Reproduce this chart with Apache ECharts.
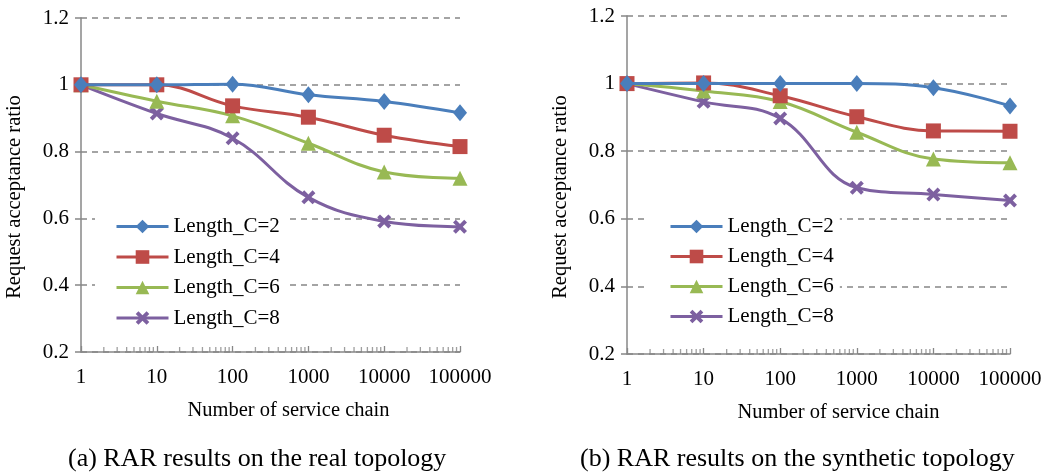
<!DOCTYPE html>
<html>
<head>
<meta charset="utf-8">
<script src="https://cdn.jsdelivr.net/npm/echarts@6/dist/echarts.min.js"></script>
<style>
  html, body { margin: 0; padding: 0; background: #fff; }
  #main { width: 1050px; height: 476px; }
</style>
</head>
<body>
<div id="main"></div>
<script>
// number of service chains (log x axis)
var chainCounts = [1, 10, 100, 1000, 10000, 100000];
var seriesNames = ['Length_C=2', 'Length_C=4', 'Length_C=6', 'Length_C=8'];

// (a) real topology
var realC2 = [1, 1, 1.002, 0.97, 0.95, 0.916];
var realC4 = [1, 1, 0.937, 0.903, 0.849, 0.815];
var realC6 = [1, 0.951, 0.907, 0.825, 0.739, 0.72];
var realC8 = [1, 0.914, 0.84, 0.663, 0.591, 0.575];

// (b) synthetic topology
var synC2 = [1, 1, 1, 1, 0.988, 0.934];
var synC4 = [1, 1.002, 0.964, 0.902, 0.86, 0.859];
var synC6 = [1, 0.978, 0.947, 0.856, 0.777, 0.766];
var synC8 = [1, 0.946, 0.897, 0.692, 0.672, 0.654];

var yTicks = [0.2, 0.4, 0.6, 0.8, 1, 1.2];
var captions = ['(a) RAR results on the real topology', '(b) RAR results on the synthetic topology'];

var colors = ['#4A7EBB', '#BE4B48', '#98B954', '#7D60A0'];
var FONT = '"Liberation Serif", "Times New Roman", serif';
var GREY = '#878787';
var crossPath = 'path://M0,2 L2,0 L5,3 L8,0 L10,2 L7,5 L10,8 L8,10 L5,7 L2,10 L0,8 L3,5 Z';
var symbols = ['diamond', 'rect', 'triangle', crossPath];
var symbolSizes = [[14, 17], 15, 15, 14];

var chart = echarts.init(document.getElementById('main'), null, { renderer: 'canvas' });

// minor ticks 2..9 in every decade (axis decoration only)
var minorTicks = [];
for (var d = 1; d < 100000; d *= 10) {
  for (var m = 2; m <= 9; m++) minorTicks.push([m * d, 0.2]);
}

function pairs(vals) {
  return vals.map(function (v, i) { return [chainCounts[i], v]; });
}

var grids = [
  { left: 81, top: 18, width: 379, height: 334 },
  { left: 627, top: 16, width: 383, height: 338 }
];

function makeX(idx, nameShift) {
  return {
    type: 'log', gridIndex: idx, min: 1, max: 100000, logBase: 10,
    name: 'Number of service chain', nameLocation: 'middle', nameGap: 48,
    nameTextStyle: { fontFamily: FONT, fontSize: 20.5, color: '#000', padding: [0, 0, 0, nameShift] },
    axisLine: { lineStyle: { color: GREY, width: 1.5 } },
    axisTick: { show: true, inside: true, length: 6, lineStyle: { color: GREY, width: 1.3 } },
    axisLabel: {
      fontFamily: FONT, fontSize: 21, color: '#000', margin: 15,
      formatter: function (v) { return String(Math.round(v)); }
    },
    splitLine: { show: false },
    minorTick: { show: false }
  };
}

function makeY(idx) {
  return {
    type: 'value', gridIndex: idx, min: 0.2, max: 1.2, interval: 0.2,
    name: 'Request acceptance ratio', nameLocation: 'middle', nameGap: 56, nameRotate: 90,
    nameTextStyle: { fontFamily: FONT, fontSize: 20.5, color: '#000', padding: [0, 0, 0, -24] },
    axisLine: { show: true, lineStyle: { color: GREY, width: 1.5 } },
    axisTick: { show: true, inside: false, length: 6, lineStyle: { color: GREY, width: 1.5 } },
    axisLabel: { fontFamily: FONT, fontSize: 21, color: '#000', margin: 12 },
    splitLine: { show: true, lineStyle: { color: GREY, width: 1.5, type: [6, 5] } }
  };
}

var realData = [realC2, realC4, realC6, realC8];
var synData = [synC2, synC4, synC6, synC8];

var series = [];
[realData, synData].forEach(function (set, g) {
  set.forEach(function (vals, i) {
    series.push({
      name: seriesNames[i], type: 'line', xAxisIndex: g, yAxisIndex: g,
      data: pairs(vals), smooth: 0.4,
      symbol: symbols[i], symbolSize: symbolSizes[i], showAllSymbol: true,
      lineStyle: { color: colors[i], width: 3 },
      itemStyle: { color: colors[i] },
      z: 3 + (set.length - i),
      animation: false
    });
  });
  series.push({
    type: 'scatter', xAxisIndex: g, yAxisIndex: g, data: minorTicks,
    symbol: 'rect', symbolSize: [1.3, 5], symbolOffset: [0, -2.5],
    itemStyle: { color: GREY }, silent: true, z: 1, animation: false
  });
});

function makeLegend(left, top, gap) {
  return {
    orient: 'vertical', left: left, top: top,
    data: seriesNames, backgroundColor: '#fff',
    padding: [5, 6, 6, 20], itemWidth: 52, itemHeight: 17, itemGap: gap,
    selectedMode: false,
    lineStyle: { width: 3 },
    textStyle: { fontFamily: FONT, fontSize: 21, color: '#000', padding: [2, 0, 0, 0] }
  };
}

var option = {
  backgroundColor: '#fff',
  animation: false,
  grid: grids,
  xAxis: [makeX(0, 36), makeX(1, 40)],
  yAxis: [makeY(0), makeY(1)],
  legend: [makeLegend(95, 211, 9.5), makeLegend(649, 211, 9)],
  graphic: [
    { type: 'text', left: 261 - 193, top: 446, style: { text: captions[0], font: '26px "Liberation Serif"', fill: '#000' } },
    { type: 'text', left: 801 - 221, top: 446, style: { text: captions[1], font: '26px "Liberation Serif"', fill: '#000' } }
  ],
  series: series
};

chart.setOption(option);
</script>
</body>
</html>
